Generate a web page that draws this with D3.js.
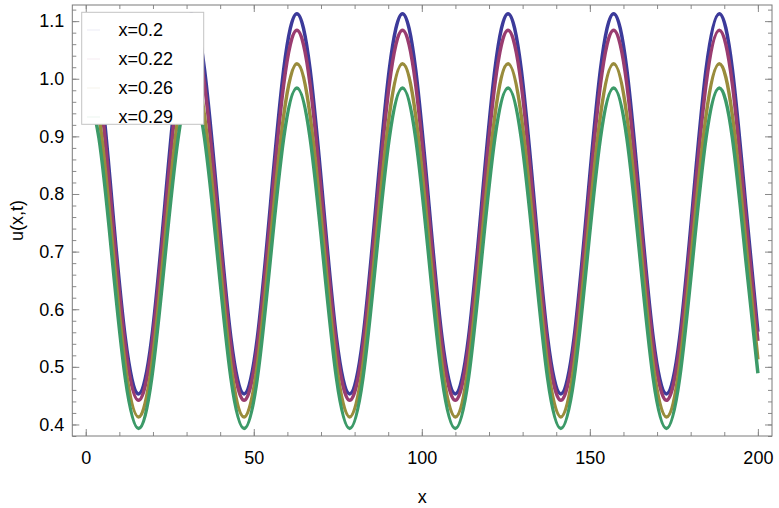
<!DOCTYPE html>
<html>
<head>
<meta charset="utf-8">
<script src="https://cdn.jsdelivr.net/npm/d3@7"></script>
<style>
  html, body { margin: 0; padding: 0; background: #fff; }
  svg { display: block; }
  text { font-family: "Liberation Sans", Arial, sans-serif; }
</style>
</head>
<body>
<svg id="chart" width="779" height="508"></svg>
<script>
// ---- data ----
const seriesNames = ["x=0.2", "x=0.22", "x=0.26", "x=0.29"];
const seriesColors = ["#3c3a9a", "#993c70", "#998c3c", "#3c9a68"];

const xs = [0, 3.93, 7.85, 11.78, 15.71, 19.63, 23.56, 27.49, 31.42, 35.34, 39.27, 43.20, 47.12, 51.05, 54.98, 58.90,
  62.83, 66.76, 70.69, 74.61, 78.54, 82.47, 86.39, 90.32, 94.25, 98.17, 102.10, 106.03, 109.96, 113.88, 117.81, 121.74,
  125.66, 129.59, 133.52, 137.44, 141.37, 145.30, 149.23, 153.15, 157.08, 161.01, 164.93, 168.86, 172.79, 176.71, 180.64, 184.57,
  188.50, 192.42, 196.35, 200];

const uBlue = [1.113, 1.016, 0.783, 0.550, 0.453, 0.550, 0.783, 1.016, 1.113, 1.016, 0.783, 0.550, 0.453, 0.550, 0.783, 1.016,
  1.113, 1.016, 0.783, 0.550, 0.453, 0.550, 0.783, 1.016, 1.113, 1.016, 0.783, 0.550, 0.453, 0.550, 0.783, 1.016,
  1.113, 1.016, 0.783, 0.550, 0.453, 0.550, 0.783, 1.016, 1.113, 1.016, 0.783, 0.550, 0.453, 0.550, 0.783, 1.016,
  1.113, 1.016, 0.783, 0.561];
const uMagenta = [1.084, 0.990, 0.763, 0.536, 0.442, 0.536, 0.763, 0.990, 1.084, 0.990, 0.763, 0.536, 0.442, 0.536, 0.763, 0.990,
  1.084, 0.990, 0.763, 0.536, 0.442, 0.536, 0.763, 0.990, 1.084, 0.990, 0.763, 0.536, 0.442, 0.536, 0.763, 0.990,
  1.084, 0.990, 0.763, 0.536, 0.442, 0.536, 0.763, 0.990, 1.084, 0.990, 0.763, 0.536, 0.442, 0.536, 0.763, 0.990,
  1.084, 0.990, 0.763, 0.545];
const uGold = [1.026, 0.936, 0.720, 0.503, 0.413, 0.503, 0.720, 0.936, 1.026, 0.936, 0.720, 0.503, 0.413, 0.503, 0.720, 0.936,
  1.026, 0.936, 0.720, 0.503, 0.413, 0.503, 0.720, 0.936, 1.026, 0.936, 0.720, 0.503, 0.413, 0.503, 0.720, 0.936,
  1.026, 0.936, 0.720, 0.503, 0.413, 0.503, 0.720, 0.936, 1.026, 0.936, 0.720, 0.503, 0.413, 0.503, 0.720, 0.936,
  1.026, 0.936, 0.720, 0.513];
const uGreen = [0.984, 0.897, 0.689, 0.480, 0.393, 0.480, 0.689, 0.897, 0.984, 0.897, 0.689, 0.480, 0.393, 0.480, 0.689, 0.897,
  0.984, 0.897, 0.689, 0.480, 0.393, 0.480, 0.689, 0.897, 0.984, 0.897, 0.689, 0.480, 0.393, 0.480, 0.689, 0.897,
  0.984, 0.897, 0.689, 0.480, 0.393, 0.480, 0.689, 0.897, 0.984, 0.897, 0.689, 0.480, 0.393, 0.480, 0.689, 0.897,
  0.984, 0.897, 0.689, 0.489];

const xMajorTicks = [0, 50, 100, 150, 200];
const xMinorTicks = [0, 10, 20, 30, 40, 50, 60, 70, 80, 90, 100, 110, 120, 130, 140, 150, 160, 170, 180, 190, 200];
const yMajorTicks = [0.4, 0.5, 0.6, 0.7, 0.8, 0.9, 1.0, 1.1];
const yMinorTicks = [0.38, 0.40, 0.42, 0.44, 0.46, 0.48, 0.50, 0.52, 0.54, 0.56, 0.58, 0.60, 0.62, 0.64, 0.66, 0.68, 0.70,
  0.72, 0.74, 0.76, 0.78, 0.80, 0.82, 0.84, 0.86, 0.88, 0.90, 0.92, 0.94, 0.96, 0.98, 1.00, 1.02, 1.04, 1.06, 1.08, 1.10, 1.12];
const xDomain = [-4, 204.2];
const yDomain = [0.380, 1.128];

// ---- drawing ----
const svg = d3.select("#chart");
const L = 72.3, R = 772, T = 5, B = 436;
const x = d3.scaleLinear().domain(xDomain).range([L, R]);
const y = d3.scaleLinear().domain(yDomain).range([B, T]);

const seriesValues = [uBlue, uMagenta, uGold, uGreen];
const series = seriesNames.map((n, i) => ({
  name: n, color: seriesColors[i],
  points: xs.map((xv, j) => [xv, seriesValues[i][j]])
}));

svg.append("clipPath").attr("id", "plotclip")
  .append("rect").attr("x", L).attr("y", T).attr("width", R - L).attr("height", B - T);

const line = d3.line().x(d => x(d[0])).y(d => y(d[1])).curve(d3.curveNatural);
const g = svg.append("g").attr("clip-path", "url(#plotclip)");
series.forEach(s => {
  g.append("path").attr("d", line(s.points))
    .attr("fill", "none").attr("stroke", s.color).attr("stroke-width", 3.5)
    .attr("stroke-linejoin", "round");
});

// axes with inward ticks
const tickColor = "#8a8a8a";
function styleAxis(sel, showText) {
  sel.select(".domain").remove();
  sel.selectAll(".tick line").attr("stroke", tickColor).attr("stroke-width", 1);
  sel.selectAll(".tick text").attr("fill", "#000").style("font-size", "18px")
    .style("font-family", "'Liberation Sans', Arial, sans-serif");
  if (!showText) sel.selectAll(".tick text").remove();
}
// bottom
svg.append("g").attr("transform", `translate(0,${B})`)
  .call(d3.axisBottom(x).tickValues(xMinorTicks).tickSize(-4).tickFormat(""))
  .call(s => styleAxis(s, false));
svg.append("g").attr("transform", `translate(0,${B})`)
  .call(d3.axisBottom(x).tickValues(xMajorTicks).tickSize(-7).tickPadding(15).tickFormat(d3.format("d")))
  .call(s => styleAxis(s, true));
// top
svg.append("g").attr("transform", `translate(0,${T})`)
  .call(d3.axisTop(x).tickValues(xMinorTicks).tickSize(-4).tickFormat(""))
  .call(s => styleAxis(s, false));
svg.append("g").attr("transform", `translate(0,${T})`)
  .call(d3.axisTop(x).tickValues(xMajorTicks).tickSize(-7).tickFormat(""))
  .call(s => styleAxis(s, false));
// left
svg.append("g").attr("transform", `translate(${L},0)`)
  .call(d3.axisLeft(y).tickValues(yMinorTicks).tickSize(-4).tickFormat(""))
  .call(s => styleAxis(s, false));
svg.append("g").attr("transform", `translate(${L},0)`)
  .call(d3.axisLeft(y).tickValues(yMajorTicks).tickSize(-7).tickPadding(8).tickFormat(d3.format(".1f")))
  .call(s => styleAxis(s, true));
// right
svg.append("g").attr("transform", `translate(${R},0)`)
  .call(d3.axisRight(y).tickValues(yMinorTicks).tickSize(-4).tickFormat(""))
  .call(s => styleAxis(s, false));
svg.append("g").attr("transform", `translate(${R},0)`)
  .call(d3.axisRight(y).tickValues(yMajorTicks).tickSize(-7).tickFormat(""))
  .call(s => styleAxis(s, false));

// frame
svg.append("rect").attr("x", L).attr("y", T).attr("width", R - L).attr("height", B - T)
  .attr("fill", "none").attr("stroke", "#7a7a7a").attr("stroke-width", 1);

// axis titles
svg.append("text").attr("x", (L + R) / 2).attr("y", 503)
  .attr("text-anchor", "middle").style("font-size", "18px").text("x");
svg.append("text").attr("transform", `translate(23,${(T + B) / 2}) rotate(-90)`)
  .attr("text-anchor", "middle").style("font-size", "18px").text("u(x,t)");

// legend
const lg = svg.append("g");
lg.append("rect").attr("x", 81.7).attr("y", 12.3).attr("width", 122).attr("height", 112)
  .attr("fill", "#fff").attr("stroke", "#c4c4c4").attr("stroke-width", 1);
series.forEach((s, i) => {
  const cy = 30 + i * 29;
  lg.append("line").attr("x1", 87).attr("x2", 100).attr("y1", cy).attr("y2", cy)
    .attr("stroke", s.color).attr("stroke-opacity", 0.07).attr("stroke-width", 1.5);
  lg.append("text").attr("x", 118.5).attr("y", cy).attr("dy", "0.35em")
    .style("font-size", "18px").text(s.name);
});
</script>
</body>
</html>
